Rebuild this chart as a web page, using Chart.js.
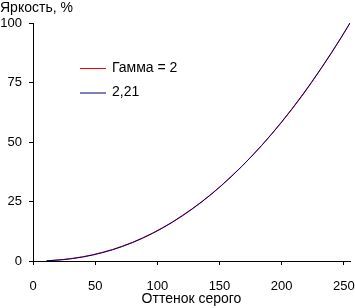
<!DOCTYPE html>
<html>
<head>
<meta charset="utf-8">
<script src="https://cdn.jsdelivr.net/npm/chart.js@4/dist/chart.umd.min.js"></script>
<style>
  html, body { margin: 0; padding: 0; background: #fff; }
  #wrap { width: 355px; height: 308px; }
</style>
</head>
<body>
<div id="wrap"><canvas id="chart"></canvas></div>
<script>
// grey levels and measured brightness, %
var greyLevels = [11, 16, 24, 32, 40, 48, 56, 64, 72, 80, 88, 96, 104, 112, 120, 128,
                  136, 144, 152, 160, 168, 176, 184, 192, 200, 208, 216, 224, 232, 240, 248, 255];
var gamma2 = [0.12, 0.30, 0.62, 1.15, 1.80, 2.62, 3.70, 4.85, 6.30, 7.85, 9.70, 11.70, 13.95, 16.35, 19.10, 21.95,
              25.05, 28.40, 31.95, 35.85, 39.80, 44.10, 48.55, 53.30, 58.30, 63.55, 69.05, 74.90, 81.00, 87.30, 93.90, 100];
var gamma221 = [0.10, 0.22, 0.54, 1.02, 1.67, 2.50, 3.51, 4.71, 6.11, 7.72, 9.53, 11.55, 13.78, 16.23, 18.91, 21.80,
                24.93, 28.28, 31.87, 35.70, 39.76, 44.07, 48.62, 53.41, 58.45, 63.75, 69.29, 75.09, 81.15, 87.46, 94.03, 100];
var xTicks = [0, 50, 100, 150, 200, 250];
var yTicks = [0, 25, 50, 75, 100];
var labels = ["Гамма = 2", "2,21"];

var font = "Liberation Sans, Arial, sans-serif";

function toPoints(ys) {
  var pts = [];
  for (var i = 0; i < greyLevels.length; i++) {
    pts.push({ x: greyLevels[i], y: ys[i] });
  }
  return pts;
}

// y title at top left + legend inside the plot
var extras = {
  id: "extras",
  afterDraw: function(chart) {
    var ctx = chart.ctx;
    ctx.save();
    ctx.fillStyle = "#000";
    ctx.font = "14px " + font;
    ctx.textBaseline = "middle";
    ctx.textAlign = "left";
    ctx.fillText("Яркость, %", 0, 8);

    var rows = [0, 1];
    for (var i = 0; i < rows.length; i++) {
      var ds = chart.data.datasets[rows[i]];
      var y = 68 + i * 24.5;
      ctx.strokeStyle = ds.borderColor;
      ctx.lineWidth = 1;
      ctx.beginPath();
      ctx.moveTo(80, y + 0.5);
      ctx.lineTo(106, y + 0.5);
      ctx.stroke();
      ctx.fillStyle = "#000";
      ctx.fillText(ds.label, 112, y);
    }
    ctx.restore();
  }
};

new Chart(document.getElementById("chart"), {
  type: "line",
  data: {
    datasets: [{
      label: labels[0],
      data: toPoints(gamma2),
      borderColor: "#ff0000",
      borderWidth: 1,
      pointRadius: 0,
      tension: 0,
      order: 1
    }, {
      label: labels[1],
      data: toPoints(gamma221),
      borderColor: "#000080",
      borderWidth: 1,
      pointRadius: 0,
      tension: 0,
      order: 0
    }]
  },
  options: {
    responsive: true,
    maintainAspectRatio: false,
    animation: false,
    layout: { padding: { left: 0, right: 5, top: 23, bottom: 0 } },
    plugins: {
      legend: { display: false },
      tooltip: { enabled: false }
    },
    scales: {
      x: {
        type: "linear",
        min: 0,
        max: 255,
        afterBuildTicks: function(s) {
          s.ticks = xTicks.map(function(v) { return { value: v }; });
        },
        afterFit: function(s) {
          s.height = 47;
          s.paddingLeft = 0;
          s.paddingRight = 0;
        },
        grid: { drawOnChartArea: false, drawTicks: true, tickLength: 4, color: "#000" },
        border: { color: "#000", width: 1 },
        ticks: { color: "#000", font: { family: font, size: 13 }, padding: 14, maxRotation: 0 },
        title: {
          display: true,
          text: "Оттенок серого",
          color: "#000",
          font: { family: font, size: 14 },
          padding: { top: 0, bottom: 0 }
        }
      },
      y: {
        min: 0,
        max: 100,
        afterBuildTicks: function(s) {
          s.ticks = yTicks.map(function(v) { return { value: v }; });
        },
        afterFit: function(s) {
          s.width = 33;
          s.paddingTop = 0;
          s.paddingBottom = 0;
        },
        grid: { drawOnChartArea: false, drawTicks: true, tickLength: 4, color: "#000" },
        border: { color: "#000", width: 1 },
        ticks: { color: "#000", font: { family: font, size: 13 }, padding: 7 }
      }
    }
  },
  plugins: [extras]
});
</script>
</body>
</html>
